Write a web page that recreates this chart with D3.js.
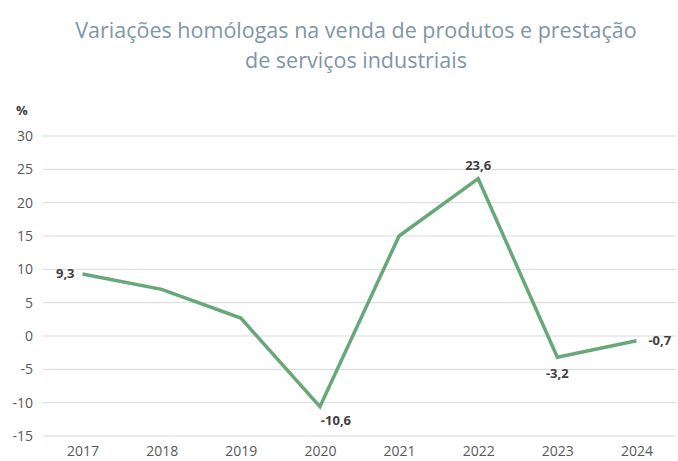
<!DOCTYPE html>
<html>
<head>
<meta charset="utf-8">
<script src="https://cdn.jsdelivr.net/npm/d3@7"></script>
<style>
  html, body { margin: 0; padding: 0; background: #fff; }
  svg { display: block; font-family: "Open Sans", "Noto Sans", sans-serif; }
</style>
</head>
<body>
<svg id="chart" width="678" height="461"></svg>
<script>
// Year-on-year change in sales of industrial products and services (%)
const years = ["2017", "2018", "2019", "2020", "2021", "2022", "2023", "2024"];
const values = [9.3, 7.0, 2.7, -10.6, 15.0, 23.6, -3.2, -0.7];
const yTicks = [30, 25, 20, 15, 10, 5, 0, -5, -10, -15];
const labelled = ["2017", "2020", "2022", "2023", "2024"];
const titleLines = ["Variações homólogas na venda de produtos e prestação", "de serviços industriais"];

const svg = d3.select("#chart");
const plotLeft = 43, plotRight = 676, plotTop = 136, plotBottom = 436;

const x = d3.scalePoint().domain(years).range([plotLeft, plotRight]).padding(0.5);
const y = d3.scaleLinear().domain([-15, 30]).range([plotBottom, plotTop]);

// Title
svg.append("g").selectAll("text").data(titleLines).join("text")
  .attr("x", 356).attr("y", (d, i) => 38 + i * 30)
  .attr("text-anchor", "middle")
  .attr("fill", "#7e96a7")
  .attr("font-size", 21.5)
  .text(d => d);

// Gridlines
svg.append("g").selectAll("line").data(yTicks).join("line")
  .attr("x1", plotLeft).attr("x2", plotRight)
  .attr("y1", d => y(d)).attr("y2", d => y(d))
  .attr("stroke", "#d9d9d9").attr("stroke-width", 1);

// Y axis labels
const yAxis = d3.axisLeft(y).tickValues(yTicks).tickSize(0).tickPadding(0)
  .tickFormat(d => String(d).replace("−", "-"));
svg.append("g").attr("transform", "translate(33,0)").call(yAxis)
  .call(g => g.select(".domain").remove())
  .call(g => g.selectAll("text").attr("fill", "#595959").attr("font-size", 14)
    .attr("font-family", "'Open Sans', sans-serif"));

svg.append("text").attr("x", 16).attr("y", 115)
  .attr("font-size", 13).attr("font-weight", "bold").attr("fill", "#404040").text("%");

// X axis labels
const xAxis = d3.axisBottom(x).tickSize(0).tickPadding(0);
svg.append("g").attr("transform", "translate(0,446)").call(xAxis)
  .call(g => g.select(".domain").remove())
  .call(g => g.selectAll("text").attr("fill", "#595959").attr("font-size", 14)
    .attr("font-family", "'Open Sans', sans-serif"));

// Line
const pts = years.map((yr, i) => ({ yr, v: values[i] }));
svg.append("path").datum(pts)
  .attr("fill", "none").attr("stroke", "#67a878").attr("stroke-width", 3.5)
  .attr("stroke-linejoin", "miter")
  .attr("d", d3.line().x(d => x(d.yr)).y(d => y(d.v)));

// Data labels
const pos = {
  "2017": { dx: -8, dy: 4, anchor: "end" },
  "2020": { dx: 16, dy: 18, anchor: "middle" },
  "2022": { dx: 0, dy: -9, anchor: "middle" },
  "2023": { dx: 0, dy: 21, anchor: "middle" },
  "2024": { dx: 12, dy: 4, anchor: "start" }
};
svg.append("g").selectAll("text").data(pts.filter(d => labelled.includes(d.yr))).join("text")
  .attr("x", d => x(d.yr) + pos[d.yr].dx)
  .attr("y", d => y(d.v) + pos[d.yr].dy)
  .attr("text-anchor", d => pos[d.yr].anchor)
  .attr("font-size", 13).attr("font-weight", "bold").attr("fill", "#404040")
  .text(d => d3.format(".1f")(d.v).replace(".", ",").replace("−", "-"));
</script>
</body>
</html>
